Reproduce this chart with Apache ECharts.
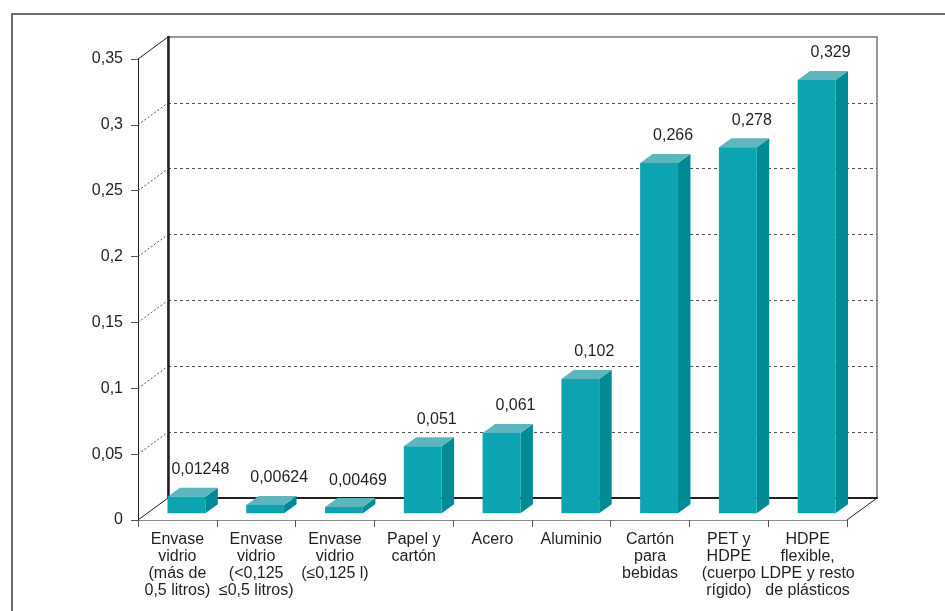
<!DOCTYPE html>
<html>
<head>
<meta charset="utf-8">
<style>
  html, body { margin: 0; padding: 0; background: #ffffff; }
  #chart { width: 945px; height: 611px; }
</style>
<script src="https://cdn.jsdelivr.net/npm/echarts@6/dist/echarts.min.js"></script>
</head>
<body>
<div id="chart"></div>
<script>
// Packaging categories (line breaks as printed under the axis)
const categories = [
  'Envase\nvidrio\n(más de\n0,5 litros)',
  'Envase\nvidrio\n(<0,125\n≤0,5 litros)',
  'Envase\nvidrio\n(≤0,125 l)',
  'Papel y\ncartón',
  'Acero',
  'Aluminio',
  'Cartón\npara\nbebidas',
  'PET y\nHDPE\n(cuerpo\nrígido)',
  'HDPE\nflexible,\nLDPE y resto\nde plásticos'
];
const values = [0.01248, 0.00624, 0.00469, 0.051, 0.061, 0.102, 0.266, 0.278, 0.329];
const valueLabels = ['0,01248', '0,00624', '0,00469', '0,051', '0,061', '0,102', '0,266', '0,278', '0,329'];
const yTickValues = [0, 0.05, 0.1, 0.15, 0.2, 0.25, 0.3, 0.35];
const yTickLabels = ['0', '0,05', '0,1', '0,15', '0,2', '0,25', '0,3', '0,35'];

const FONT = '"Liberation Sans", Arial, Helvetica, sans-serif';
const TEXT = '#231f20';
const DEPTH = [30, -22];          // oblique offset from front plane to back wall
const BAR_SHIFT = [9, -6.7];      // bar front face sits slightly inside the floor
const BAR_DEPTH = [12.5, -9];     // thickness of each bar
const C_FRONT = '#0ba4b0', C_SIDE = '#008a94', C_TOP = '#5eb5bd';

const chart = echarts.init(document.getElementById('chart'), null, { renderer: 'canvas' });

function tickLabel(v) {
  const i = yTickValues.findIndex(t => Math.abs(t - v) < 1e-9);
  return i >= 0 ? yTickLabels[i] : '';
}

// Bars as oblique boxes: front face, right side, top
function renderBar(params, api) {
  const idx = api.value(0);
  const v = api.value(1);
  const base = api.coord([idx, 0]);
  const top = api.coord([idx, v]);
  const w = api.size([1, 0])[0] * 0.48;
  const x0 = base[0] - w / 2 + BAR_SHIFT[0];
  const x1 = base[0] + w / 2 + BAR_SHIFT[0];
  const yb = base[1] + BAR_SHIFT[1];
  const yt = top[1] + BAR_SHIFT[1];
  const dx = BAR_DEPTH[0], dy = BAR_DEPTH[1];
  return {
    type: 'group',
    children: [
      { type: 'polygon', shape: { points: [[x1, yb], [x1, yt], [x1 + dx, yt + dy], [x1 + dx, yb + dy]] },
        style: { fill: C_SIDE } },
      { type: 'polygon', shape: { points: [[x0, yt], [x1, yt], [x1 + dx, yt + dy], [x0 + dx, yt + dy]] },
        style: { fill: C_TOP } },
      { type: 'rect', shape: { x: x0, y: yt, width: x1 - x0, height: yb - yt },
        style: { fill: C_FRONT } },
      { type: 'text',
        style: { x: (x0 + x1) / 2 + 14, y: yt + dy - 18, text: valueLabels[params.dataIndex],
                 fill: TEXT, font: '16px ' + FONT, align: 'center', verticalAlign: 'middle' } }
    ]
  };
}

// Receding lines joining each front tick to the back wall
function renderDepthLine(params, api) {
  const v = api.value(1);
  const cs = params.coordSys;
  const y = api.coord([0, v])[1];
  const edge = (v === 0 || Math.abs(v - 0.35) < 1e-9);
  const style = edge
    ? { stroke: TEXT, lineWidth: 1 }
    : { stroke: '#555', lineWidth: 1, lineDash: [2, 2] };
  const children = [
    { type: 'line', shape: { x1: cs.x, y1: y, x2: cs.x + DEPTH[0], y2: y + DEPTH[1] }, style: style }
  ];
  if (v === 0) {
    const xr = cs.x + cs.width;
    children.push({ type: 'line', shape: { x1: xr, y1: y, x2: xr + DEPTH[0], y2: y + DEPTH[1] }, style: style });
  }
  return { type: 'group', children: children };
}

const option = {
  backgroundColor: '#ffffff',
  animation: false,
  textStyle: { fontFamily: FONT },
  graphic: [
    { type: 'polyline', shape: { points: [[12, 612], [12, 14], [946, 14]] },
      style: { stroke: '#6b6b6b', lineWidth: 2, fill: null }, silent: true }
  ],
  grid: [
    { left: 138, right: 98, top: 59, bottom: 91 },
    { left: 168, right: 68, top: 37, bottom: 113, show: true, borderColor: '#777', borderWidth: 1.5, backgroundColor: 'transparent' }
  ],
  xAxis: [
    { type: 'category', gridIndex: 0, data: categories, boundaryGap: true,
      axisLine: { lineStyle: { color: '#8a8a8a', width: 1 } },
      axisTick: { show: true, length: 7, lineStyle: { color: '#555', width: 1 } },
      axisLabel: { interval: 0, margin: 11, color: TEXT, fontSize: 16, lineHeight: 17, fontFamily: FONT, align: 'center' } },
    { type: 'category', gridIndex: 1, data: categories, boundaryGap: true,
      axisLine: { lineStyle: { color: TEXT, width: 2 } },
      axisTick: { show: false }, axisLabel: { show: false } }
  ],
  yAxis: [
    { type: 'value', gridIndex: 0, min: 0, max: 0.35, interval: 0.05,
      axisLine: { show: true, lineStyle: { color: TEXT, width: 1 } },
      axisTick: { show: true, length: 7, lineStyle: { color: '#555', width: 1 } },
      splitLine: { show: false },
      axisLabel: { margin: 15, color: TEXT, fontSize: 16, fontFamily: FONT, formatter: tickLabel } },
    { type: 'value', gridIndex: 1, min: 0, max: 0.35, interval: 0.05,
      axisLine: { show: true, lineStyle: { color: TEXT, width: 2.5 } },
      axisTick: { show: false }, axisLabel: { show: false },
      splitLine: { show: true, showMinLine: false, showMaxLine: false,
                   lineStyle: { color: '#555', width: 1, type: [3, 3] } } }
  ],
  series: [
    { type: 'custom', xAxisIndex: 0, yAxisIndex: 0, z: 3, silent: true,
      renderItem: renderDepthLine,
      data: yTickValues.map(v => [0, v]) },
    { type: 'custom', xAxisIndex: 0, yAxisIndex: 0, z: 5, silent: true,
      renderItem: renderBar,
      data: values.map((v, i) => [i, v]) }
  ]
};

chart.setOption(option);
</script>
</body>
</html>
